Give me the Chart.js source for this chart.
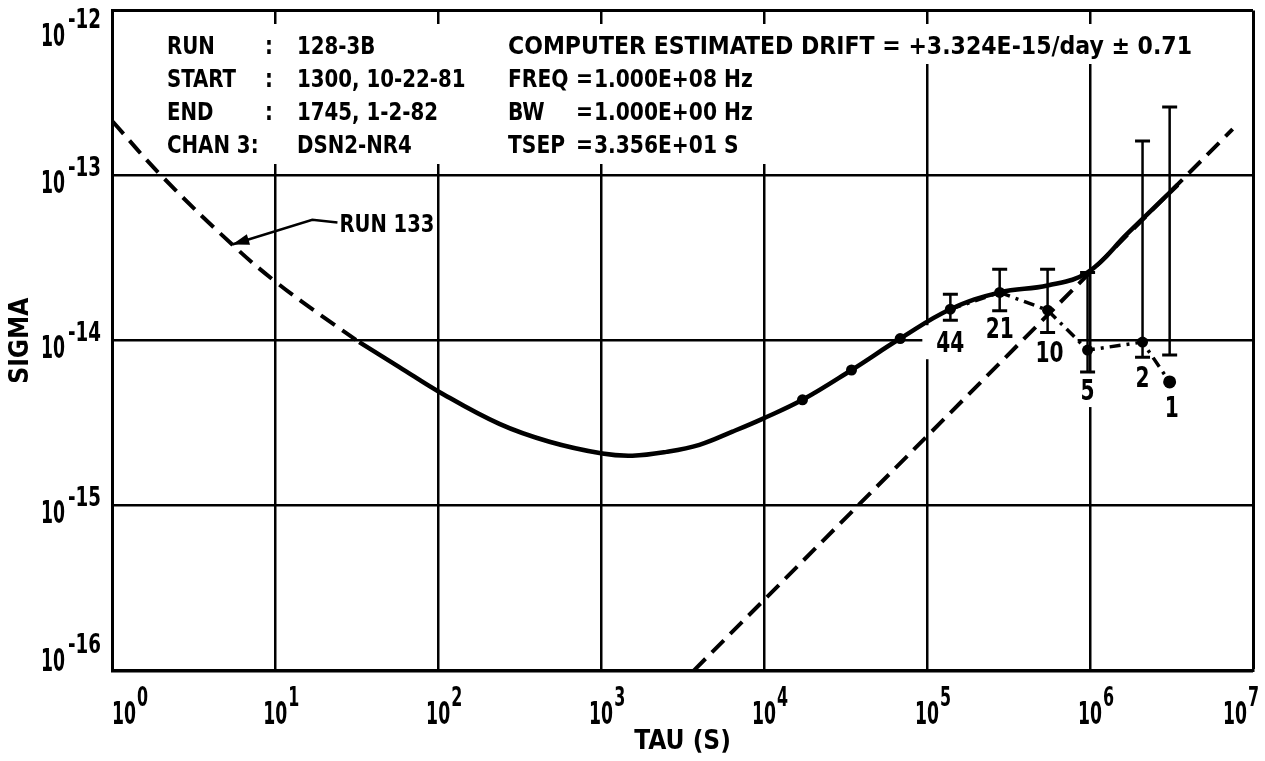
<!DOCTYPE html>
<html>
<head>
<meta charset="utf-8">
<script src="https://cdn.jsdelivr.net/npm/chart.js@4/dist/chart.umd.min.js"></script>
<style>
  html, body { margin: 0; padding: 0; background: #fff; }
  canvas { display: block; }
</style>
</head>
<body>
<canvas id="sigmaChart" width="1265" height="761"></canvas>
<script>
// decade ticks on both log axes
const tauTicks = [1, 10, 100, 1e3, 1e4, 1e5, 1e6, 1e7];
const sigmaTicks = [1e-16, 1e-15, 1e-14, 1e-13, 1e-12];

// RUN 133 reference (dashed, short tau)
const run133Tau   = [1, 2, 5.45, 10.2, 20.6, 32.8];
const run133Sigma = [2.14e-13, 1.0e-13, 3.82e-14, 2.25e-14, 1.35e-14, 9.8e-15];

// smooth solid curve
const fitTau   = [32.8, 57.8, 101.6, 237.6, 482, 1018, 1556, 2518, 4010, 6394, 9772,
                  1.72e4, 3.44e4, 6.84e4, 1.39e5, 2.79e5, 5.49e5, 9.66e5, 1.70e6, 3.45e6];
const fitSigma = [9.8e-15, 6.92e-15, 4.89e-15, 3.13e-15, 2.44e-15, 2.07e-15, 2.01e-15, 2.12e-15,
                  2.34e-15, 2.81e-15, 3.36e-15, 4.38e-15, 6.64e-15, 1.03e-14, 1.55e-14, 1.96e-14,
                  2.16e-14, 2.59e-14, 4.46e-14, 8.79e-14];
const fitDots  = [1.72e4, 3.44e4, 6.84e4];

// drift line (dashed, slope +1)
const driftTau   = [3690, 7.5e6];
const driftSigma = [1e-16, 1.91e-13];

// measured points with sample counts and error bars
const sampleLabels = ['44', '21', '10', '5', '2', '1'];
const measTau      = [1.39e5, 2.79e5, 5.49e5, 9.66e5, 2.10e6, 3.08e6];
const measSigma    = [1.55e-14, 1.96e-14, 1.53e-14, 8.77e-15, 9.8e-15, 5.62e-15];
const errHigh      = [1.91e-14, 2.71e-14, 2.71e-14, 2.59e-14, 1.62e-13, 2.60e-13];
const errLow       = [1.33e-14, 1.52e-14, 1.12e-14, 6.46e-15, 7.94e-15, 8.18e-15];

// header text block
const headLeftKeys = ['RUN', 'START', 'END', 'CHAN 3:'];
const headLeftVals = ['128-3B', '1300, 10-22-81', '1745, 1-2-82', 'DSN2-NR4'];
const headDrift    = 'COMPUTER ESTIMATED DRIFT = +3.324E-15/day \u00B1 0.71';
const headRightKeys = ['FREQ', 'BW', 'TSEP'];
const headRightVals = ['1.000E+08 Hz', '1.000E+00 Hz', '3.356E+01 S'];

// RUN 133 callout: label anchor and leader (tau, sigma)
const run133Label  = [24.8, 5.2e-14];
const run133Leader = [[24.8, 5.2e-14], [16.9, 5.4e-14], [5.45, 3.82e-14]];

const FONT = "'DejaVu Sans Condensed', 'DejaVu Sans', sans-serif";

function pts(xs, ys) {
  return xs.map((x, i) => ({ x, y: ys[i] }));
}

function measure(ctx, str, size, sx) {
  ctx.font = `bold ${size}px ${FONT}`;
  return ctx.measureText(str).width * sx;
}

// text centred on its cap height, squeezed horizontally by sx
function capText(ctx, str, x, cy, size, sx, align) {
  const w = measure(ctx, str, size, sx);
  const left = align === 'center' ? x - w / 2 : align === 'right' ? x - w : x;
  ctx.save();
  ctx.translate(left, cy + size * 0.365);
  ctx.scale(sx, 1);
  ctx.textAlign = 'left';
  ctx.textBaseline = 'alphabetic';
  ctx.fillStyle = '#000';
  ctx.fillText(str, 0, 0);
  ctx.restore();
  return { left, right: left + w, w };
}

function whiteBox(ctx, l, t, r, b) {
  ctx.save();
  ctx.fillStyle = '#fff';
  ctx.fillRect(l, t, r - l, b - t);
  ctx.restore();
}

// "10" with a raised exponent
function drawPow(ctx, exp, x, cy, mode) {
  const e = String(exp);
  const wb = measure(ctx, '10', 32, 0.6);
  const we = measure(ctx, e, 26, mode === 'right' ? 0.78 : 0.68);
  let left;
  if (mode === 'right') {
    left = x - wb - we - 3;
  } else {
    left = x - wb / 2;
    left = Math.max(left, 112);
    left = Math.min(left, 1258 - wb - we);
  }
  capText(ctx, '10', left, cy, 32, 0.6, 'left');
  capText(ctx, e, left + wb + (mode === 'right' ? 3 : 1), cy - 15, 26, mode === 'right' ? 0.78 : 0.68, 'left');
}

const annotations = {
  id: 'annotations',
  beforeDatasetsDraw(chart) {
    const { ctx, scales: { x, y } } = chart;

    // header block, white behind text cuts the grid
    const rows = [45, 78, 111, 144];
    whiteBox(ctx, 158, 24, 1200, 64);
    whiteBox(ctx, 158, 60, 775, 164);
    headLeftKeys.forEach((k, i) => {
      capText(ctx, k, 167, rows[i], 25, 0.88, 'left');
      if (i < 3) capText(ctx, ':', 265, rows[i], 25, 0.88, 'left');
      capText(ctx, headLeftVals[i], 297, rows[i], 25, 0.88, 'left');
    });
    const dw = measure(ctx, headDrift, 25, 1);
    capText(ctx, headDrift, 508, rows[0], 25, 684 / dw, 'left');
    headRightKeys.forEach((k, i) => {
      capText(ctx, k, 508, rows[i + 1], 25, 0.9, 'left');
      capText(ctx, '=', 576, rows[i + 1], 25, 0.9, 'left');
      capText(ctx, headRightVals[i], 594, rows[i + 1], 25, 0.9, 'left');
    });

    // RUN 133 label
    const lx = x.getPixelForValue(run133Label[0]);
    const ly = y.getPixelForValue(run133Label[1]);
    const wr = measure(ctx, 'RUN 133', 25, 0.87);
    whiteBox(ctx, lx - 2, ly - 13, lx + wr + 2, ly + 13);
    capText(ctx, 'RUN 133', lx, ly, 25, 0.87, 'left');

    // sample counts under the points
    const offs = [[0, 33], [0, 35], [2, 42], [0, 40], [0, 35], [2, 25]];
    sampleLabels.forEach((s, i) => {
      const px = x.getPixelForValue(measTau[i]) + offs[i][0];
      const py = y.getPixelForValue(measSigma[i]) + offs[i][1];
      const w = measure(ctx, s, 28, 0.8);
      const pad = i < 3 ? 14 : 8;
      whiteBox(ctx, px - w / 2 - pad, py - 17, px + w / 2 + pad, py + 17);
      capText(ctx, s, px, py, 28, 0.8, 'center');
    });
  },
  afterDatasetsDraw(chart) {
    const { ctx, scales: { x, y } } = chart;
    // leader with arrow head
    const p = run133Leader.map(([t, s]) => [x.getPixelForValue(t), y.getPixelForValue(s)]);
    ctx.save();
    ctx.strokeStyle = '#000';
    ctx.fillStyle = '#000';
    ctx.lineWidth = 2.5;
    ctx.beginPath();
    ctx.moveTo(p[0][0] - 2, p[0][1]);
    for (let i = 1; i < p.length; i++) ctx.lineTo(p[i][0], p[i][1]);
    ctx.stroke();
    const [ax, ay] = p[p.length - 1];
    const [bx, by] = p[p.length - 2];
    const ang = Math.atan2(ay - by, ax - bx);
    ctx.beginPath();
    ctx.moveTo(ax, ay);
    ctx.lineTo(ax - 17 * Math.cos(ang) + 5.5 * Math.sin(ang), ay - 17 * Math.sin(ang) - 5.5 * Math.cos(ang));
    ctx.lineTo(ax - 17 * Math.cos(ang) - 5.5 * Math.sin(ang), ay - 17 * Math.sin(ang) + 5.5 * Math.cos(ang));
    ctx.closePath();
    ctx.fill();
    ctx.restore();
  },
  afterDraw(chart) {
    const { ctx, scales: { x, y } } = chart;
    tauTicks.forEach(v => {
      drawPow(ctx, Math.round(Math.log10(v)), x.getPixelForValue(v), 712, 'center');
    });
    sigmaTicks.forEach(v => {
      let cy = y.getPixelForValue(v) + 6;
      cy = Math.min(Math.max(cy, 34), 659);
      drawPow(ctx, Math.round(Math.log10(v)), 101, cy, 'right');
    });
  }
};

const errorSets = measTau.map((t, i) => ({
  data: [{ x: t, y: errLow[i] }, { x: t, y: errHigh[i] }],
  showLine: true,
  borderColor: '#000',
  borderWidth: 2.5,
  pointStyle: 'line',
  pointRadius: 7.5,
  pointBorderWidth: 3,
  pointBorderColor: '#000'
}));

new Chart(document.getElementById('sigmaChart'), {
  type: 'scatter',
  data: {
    datasets: [
      {
        data: pts(run133Tau, run133Sigma),
        showLine: true,
        borderColor: '#000',
        borderWidth: 4,
        borderDash: [17, 9],
        pointRadius: 0,
        tension: 0.4
      },
      {
        data: pts(fitTau, fitSigma),
        showLine: true,
        borderColor: '#000',
        borderWidth: 4.5,
        backgroundColor: '#000',
        pointRadius: c => fitDots.includes(fitTau[c.dataIndex]) ? 5.5 : 0,
        pointBorderWidth: 0,
        tension: 0.4
      },
      {
        data: pts(driftTau, driftSigma),
        showLine: true,
        borderColor: '#000',
        borderWidth: 4,
        borderDash: [17, 9],
        pointRadius: 0
      },
      {
        data: pts(measTau, measSigma),
        showLine: true,
        borderColor: '#000',
        borderWidth: 3.5,
        borderDash: [11, 6, 3, 6],
        backgroundColor: '#000',
        pointRadius: [5.5, 5.5, 5.5, 5.5, 5.5, 6.5],
        pointBorderWidth: 0
      },
      ...errorSets
    ]
  },
  options: {
    responsive: false,
    animation: false,
    layout: { padding: { left: 0, top: 7, right: 12, bottom: 0 } },
    plugins: { legend: { display: false }, tooltip: { enabled: false } },
    scales: {
      x: {
        type: 'logarithmic',
        min: 1,
        max: 1e7,
        afterBuildTicks: s => { s.ticks = tauTicks.map(v => ({ value: v })); },
        ticks: { display: false },
        grid: { color: '#000', lineWidth: c => c.tick && c.tick.value === 1e7 ? 3 : 2.5, drawTicks: false },
        border: { color: '#000', width: 3 },
        title: {
          display: true,
          text: 'TAU (S)',
          color: '#000',
          font: { family: FONT, size: 26, weight: 'bold' },
          padding: { top: 56, bottom: 3 }
        }
      },
      y: {
        type: 'logarithmic',
        min: 1e-16,
        max: 1e-12,
        afterBuildTicks: s => { s.ticks = sigmaTicks.map(v => ({ value: v })); },
        ticks: { display: false },
        grid: { color: '#000', lineWidth: c => c.tick && c.tick.value === 1e-12 ? 3 : 2.5, drawTicks: false },
        border: { color: '#000', width: 3 },
        title: {
          display: true,
          text: 'SIGMA',
          color: '#000',
          font: { family: FONT, size: 26, weight: 'bold' },
          padding: { top: 6, bottom: 75 }
        }
      }
    }
  },
  plugins: [annotations]
});
</script>
</body>
</html>
